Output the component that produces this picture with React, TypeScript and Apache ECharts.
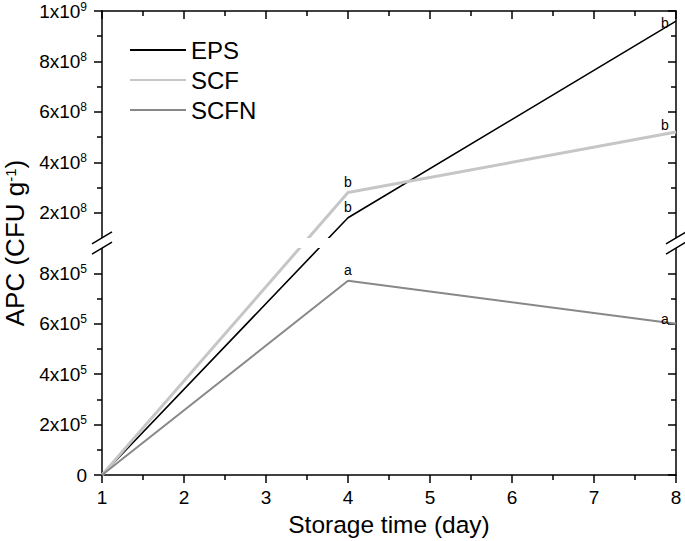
import React, { useEffect, useRef } from "react";
import * as echarts from "echarts";

// ---- data ----
const days = [1, 4, 8];
const seriesNames = ["EPS", "SCF", "SCFN"];
const epsValues = [0, 1.8e8, 9.6e8];
const scfValues = [0, 2.8e8, 5.2e8];
const scfnValues = [0, 7.7e5, 6.0e5];
const epsLetters = ["", "b", "b"];
const scfLetters = ["", "b", "b"];
const scfnLetters = ["", "a", "a"];
const xMin = 1;
const xMax = 8;
const yMajorLow = [0, 2e5, 4e5, 6e5, 8e5];
const yMinorLow = [1e5, 3e5, 5e5, 7e5];
const yMajorHigh = [2e8, 4e8, 6e8, 8e8, 1e9];
const yMinorHigh = [3e8, 5e8, 7e8, 9e8];
const breakLow = 9e5; // top of lower segment
const breakHigh = 1e8; // bottom of upper segment
const yTop = 1e9;

// ---- broken-axis mapping ----
const LOW_UNIT = 1e5;
const HIGH_UNIT = 1e8;
const GAP = 0.4;
const toAxis = (v: number) =>
  v <= breakLow ? v / LOW_UNIT : breakLow / LOW_UNIT + GAP + (v - breakHigh) / HIGH_UNIT;
const axisMax = toAxis(yTop);

const FONT = "'Liberation Sans', Arial, Helvetica, sans-serif";

const fmtSci = (v: number) => {
  if (v === 0) return "{m|0}";
  const e = Math.floor(Math.log10(v) + 1e-9);
  const m = Math.round(v / Math.pow(10, e));
  return `{m|${m}x10}{s|${e}}`;
};
const allMajor = [...yMajorLow, ...yMajorHigh];
const allMinor = [...yMinorLow, ...yMinorHigh];
const labelFor = (av: number) => {
  const hit = allMajor.find((v) => Math.abs(toAxis(v) - av) < 1e-6);
  return hit === undefined ? "" : fmtSci(hit);
};

const mkSeries = (name: string, values: number[], letters: string[], color: string, width: number, lastOffset: number[]) => ({
  name,
  type: "line",
  xAxisIndex: 0,
  yAxisIndex: 0,
  symbol: "circle",
  symbolSize: 0,
  showSymbol: true,
  lineStyle: { color, width },
  itemStyle: { color },
  z: 3,
  data: days.map((d, i) => ({
    value: [d, toAxis(values[i])],
    label: {
      show: letters[i] !== "",
      formatter: letters[i],
      position: "top",
      distance: 4,
      offset: i === days.length - 1 ? lastOffset : [0, 0],
      color: "#000",
      fontSize: 14,
      fontFamily: FONT,
    },
  })),
});

export default function App() {
  const ref = useRef<HTMLDivElement>(null);
  useEffect(() => {
    if (!ref.current) return;
    const chart = echarts.init(ref.current, undefined, { renderer: "svg" });
    const axisLineStyle = { color: "#000", width: 1.5 };
    const commonY = { type: "value", min: 0, max: axisMax, splitLine: { show: false } };
    const option: any = {
      animation: false,
      backgroundColor: "#fff",
      grid: { left: 102, right: 9, top: 11, bottom: 66, outerBoundsMode: "none", containLabel: false },
      legend: {
        data: seriesNames,
        orient: "vertical",
        left: 124,
        top: 33,
        itemWidth: 56,
        itemHeight: 20,
        itemGap: 6,
        itemStyle: { opacity: 0 },
        textStyle: { fontSize: 24, fontFamily: FONT, color: "#000" },
      },
      xAxis: [
        {
          type: "value",
          min: xMin,
          max: xMax,
          interval: 1,
          position: "bottom",
          name: "Storage time (day)",
          nameLocation: "middle",
          nameGap: 28,
          nameTextStyle: { fontSize: 24.5, fontFamily: FONT, color: "#000" },
          axisLine: { show: true, onZero: false, lineStyle: axisLineStyle },
          axisTick: { show: true, length: 8, lineStyle: axisLineStyle },
          minorTick: { show: true, splitNumber: 2, length: 5, lineStyle: axisLineStyle },
          axisLabel: { show: true, fontSize: 19, fontFamily: FONT, color: "#000", margin: 13 },
          splitLine: { show: false },
        },
        {
          type: "value",
          min: xMin,
          max: xMax,
          interval: 1,
          position: "top",
          axisLine: { show: true, onZero: false, lineStyle: axisLineStyle },
          axisTick: { show: true, inside: true, length: 8, lineStyle: axisLineStyle },
          minorTick: { show: true, splitNumber: 2, length: 5, lineStyle: axisLineStyle },
          axisLabel: { show: false },
          splitLine: { show: false },
        },
      ],
      yAxis: [
        {
          ...commonY,
          position: "left",
          name: "{a|APC (CFU g}{s|-1}{a|)}",
          nameLocation: "middle",
          nameGap: 75,
          nameTextStyle: {
            fontFamily: FONT,
            color: "#000",
            rich: {
              a: { fontSize: 26, lineHeight: 24, fontFamily: FONT, color: "#000" },
              s: { fontSize: 15, lineHeight: 24, fontFamily: FONT, color: "#000", verticalAlign: "top" },
            },
          },
          axisLine: { show: true, onZero: false, lineStyle: axisLineStyle },
          axisTick: { show: true, length: 8, lineStyle: axisLineStyle, customValues: allMajor.map(toAxis) },
          axisLabel: {
            show: true,
            margin: 15,
            customValues: allMajor.map(toAxis),
            formatter: (v: number) => labelFor(v),
            rich: {
              m: { fontSize: 19, fontFamily: FONT, color: "#000" },
              s: { fontSize: 12, fontFamily: FONT, color: "#000", verticalAlign: "top", padding: [0, 0, 9, 0] },
            },
          },
        },
        {
          ...commonY,
          position: "left",
          offset: 0,
          axisLine: { show: false },
          axisTick: { show: true, length: 5, lineStyle: axisLineStyle, customValues: allMinor.map(toAxis) },
          axisLabel: { show: false },
        },
        {
          ...commonY,
          position: "right",
          offset: 0,
          axisLine: { show: true, onZero: false, lineStyle: axisLineStyle },
          axisTick: { show: true, inside: true, length: 8, lineStyle: axisLineStyle, customValues: allMajor.map(toAxis) },
          axisLabel: { show: false },
        },
        {
          ...commonY,
          position: "right",
          offset: 0,
          axisLine: { show: false },
          axisTick: { show: true, inside: true, length: 5, lineStyle: axisLineStyle, customValues: allMinor.map(toAxis) },
          axisLabel: { show: false },
        },
      ],
      series: [
        mkSeries("EPS", epsValues, epsLetters, "#000000", 1.6, [-11, 13]),
        mkSeries("SCF", scfValues, scfLetters, "#c6c6c6", 3, [-11, 4]),
        mkSeries("SCFN", scfnValues, scfnLetters, "#888888", 2, [-11, 6]),
        {
          type: "custom",
          xAxisIndex: 0,
          yAxisIndex: 0,
          z: 10,
          silent: true,
          clip: false,
          data: [[xMin, 0]],
          renderItem: (_p: any, api: any) => {
            const [xl, yU] = api.coord([xMin, toAxis(breakHigh)]);
            const [xr, yL] = api.coord([xMax, toAxis(breakLow)]);
            const w = 10;
            const dy = 6;
            const kids: any[] = [
              { type: "rect", shape: { x: xl, y: yU, width: xr - xl, height: yL - yU }, style: { fill: "#fff" } },
            ];
            [xl, xr].forEach((x0) => {
              kids.push({
                type: "polygon",
                shape: { points: [[x0 - w, yU + dy], [x0 + w, yU - dy], [x0 + w, yL - dy], [x0 - w, yL + dy]] },
                style: { fill: "#fff" },
              });
              kids.push({ type: "line", shape: { x1: x0 - w, y1: yU + dy, x2: x0 + w, y2: yU - dy }, style: { stroke: "#000", lineWidth: 1.5 } });
              kids.push({ type: "line", shape: { x1: x0 - w, y1: yL + dy, x2: x0 + w, y2: yL - dy }, style: { stroke: "#000", lineWidth: 1.5 } });
            });
            return { type: "group", children: kids };
          },
        },
      ],
    };
    chart.setOption(option);
    return () => chart.dispose();
  }, []);
  return <div ref={ref} style={{ position: "fixed", left: 0, top: 0, width: 685, height: 541 }} />;
}
